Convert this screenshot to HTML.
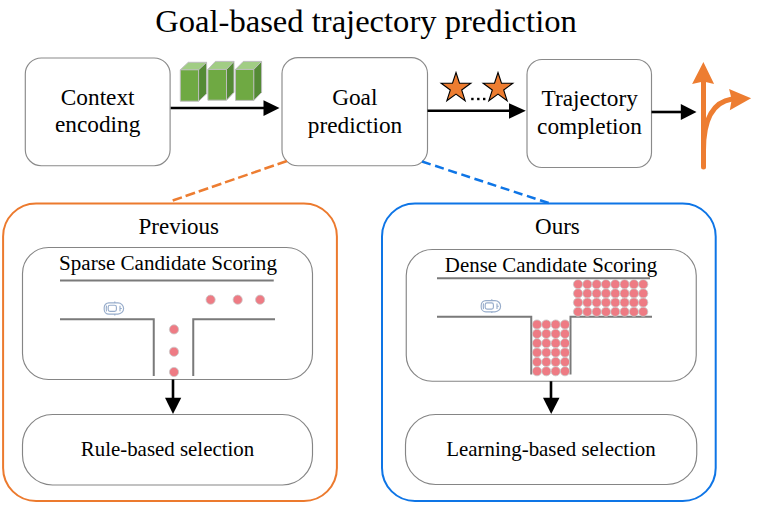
<!DOCTYPE html>
<html><head><meta charset="utf-8"><style>html,body{margin:0;padding:0;background:#fff;overflow:hidden}svg{display:block}</style></head>
<body><svg width="757" height="505" viewBox="0 0 757 505">
<rect width="757" height="505" fill="#fff"/>
<text x="366" y="31.7" font-size="32.6" text-anchor="middle" font-family="&quot;Liberation Serif&quot;, serif" fill="#000">Goal-based trajectory prediction</text>

<!-- top boxes -->
<g fill="#fff" stroke="#8A8A8A" stroke-width="1.15">
<rect x="25.3" y="58" width="144.8" height="107.7" rx="16"/>
<rect x="282" y="57.6" width="145.5" height="108.2" rx="16"/>
<rect x="527" y="59.5" width="124.5" height="108" rx="15"/>
</g>
<g font-size="23.3" text-anchor="middle" font-family="&quot;Liberation Serif&quot;, serif" fill="#000">
<text x="97.7" y="105">Context</text>
<text x="97.7" y="132">encoding</text>
<text x="354.8" y="104.5">Goal</text>
<text x="355" y="132.5">prediction</text>
<text x="589.7" y="106.3">Trajectory</text>
<text x="589.5" y="134">completion</text>
</g>

<!-- cubes -->
<polygon points="180.3,69.8 188.3,62.3 206.60000000000002,62.3 198.60000000000002,69.8" fill="#A1CD84"/><polygon points="198.60000000000002,69.8 206.60000000000002,62.3 206.60000000000002,93.69999999999999 198.60000000000002,101.19999999999999" fill="#548A35"/><rect x="180.3" y="69.8" width="18.3" height="31.4" fill="#6FA943"/><path d="M180.3,69.8 h18.3 v31.4 h-18.3 z M180.3,69.8 l8,-7.5 h18.3 v31.4 l-8,7.5 M198.60000000000002,69.8 l8,-7.5" fill="none" stroke="#BDBDBD" stroke-width="1"/>
<polygon points="207.9,69.4 215.4,61.400000000000006 234.0,61.400000000000006 226.5,69.4" fill="#A1CD84"/><polygon points="226.5,69.4 234.0,61.400000000000006 234.0,92.2 226.5,100.2" fill="#548A35"/><rect x="207.9" y="69.4" width="18.6" height="30.8" fill="#6FA943"/><path d="M207.9,69.4 h18.6 v30.8 h-18.6 z M207.9,69.4 l7.5,-8 h18.6 v30.8 l-7.5,8 M226.5,69.4 l7.5,-8" fill="none" stroke="#BDBDBD" stroke-width="1"/>
<polygon points="235.5,69.4 243.3,61.400000000000006 261.6,61.400000000000006 253.8,69.4" fill="#A1CD84"/><polygon points="253.8,69.4 261.6,61.400000000000006 261.6,92.4 253.8,100.4" fill="#548A35"/><rect x="235.5" y="69.4" width="18.3" height="31" fill="#6FA943"/><path d="M235.5,69.4 h18.3 v31 h-18.3 z M235.5,69.4 l7.8,-8 h18.3 v31 l-7.8,8 M253.8,69.4 l7.8,-8" fill="none" stroke="#BDBDBD" stroke-width="1"/>

<!-- arrows top -->
<g stroke="#000" stroke-width="2.6">
<line x1="170.7" y1="108" x2="265" y2="108"/>
<line x1="427.5" y1="110.8" x2="510" y2="110.8"/>
<line x1="651.5" y1="112" x2="682" y2="112"/>
</g>
<g fill="#000">
<polygon points="263.5,100.2 279.5,108 263.5,115.9"/>
<polygon points="509,103.3 525.8,110.8 509,118.7"/>
<polygon points="680.8,104 696.5,112 680.8,120"/>
</g>

<!-- stars -->
<g fill="#ED7D31" stroke="#000" stroke-width="1.1" stroke-linejoin="miter">
<polygon points="456.00,72.50 459.50,83.28 470.84,83.28 461.67,89.94 465.17,100.72 456.00,94.06 446.83,100.72 450.33,89.94 441.16,83.28 452.50,83.28"/>
<polygon points="498.00,72.50 501.50,83.28 512.84,83.28 503.67,89.94 507.17,100.72 498.00,94.06 488.83,100.72 492.33,89.94 483.16,83.28 494.50,83.28"/>
</g>
<g fill="#000">
<rect x="471.2" y="97.8" width="2.4" height="2.4"/>
<rect x="477.1" y="97.8" width="2.4" height="2.4"/>
<rect x="483" y="97.8" width="2.4" height="2.4"/>
</g>

<!-- fork arrow -->
<g fill="none" stroke="#ED7D31" stroke-width="5" stroke-linecap="round">
<line x1="703.5" y1="167" x2="703.5" y2="80"/>
<path d="M703.5,150 C703.5,118 713,102 732,99"/>
</g>
<g fill="#ED7D31">
<polygon points="703.4,61.9 714.1,83.9 703.5,81.4 692.1,83.9"/>
<polygon points="751.1,98.3 729.8,110.2 731.7,99.6 729.1,88.9"/>
</g>

<!-- dashed connectors -->
<line x1="287" y1="161" x2="172.7" y2="200.5" stroke="#ED7D31" stroke-width="2.5" stroke-dasharray="10,3.9"/>
<line x1="422" y1="161.5" x2="550" y2="203.5" stroke="#0E75E6" stroke-width="2.5" stroke-dasharray="9.1,4.7"/>

<!-- outer boxes -->
<rect x="3.1" y="203.5" width="333.8" height="297.5" rx="33" fill="none" stroke="#EC7A2E" stroke-width="2"/>
<rect x="382" y="203.5" width="333.7" height="297.5" rx="33" fill="none" stroke="#0E75E6" stroke-width="2"/>

<g font-size="23" text-anchor="middle" font-family="&quot;Liberation Serif&quot;, serif" fill="#000">
<text x="178.8" y="233.75">Previous</text>
<text x="557.4" y="233.75">Ours</text>
</g>

<!-- inner boxes -->
<g fill="#fff" stroke="#858585" stroke-width="1.15">
<rect x="22.5" y="247.5" width="290" height="132" rx="26"/>
<rect x="22.5" y="414.5" width="290" height="70.5" rx="30"/>
<rect x="406.25" y="249.5" width="290" height="131.75" rx="26"/>
<rect x="405.5" y="414.5" width="291.25" height="70" rx="30"/>
</g>
<g font-size="20.9" text-anchor="middle" font-family="&quot;Liberation Serif&quot;, serif" fill="#000">
<text x="168" y="270" font-size="21.1">Sparse Candidate Scoring</text>
<text x="167.5" y="455.5">Rule-based selection</text>
<text x="551" y="271.75">Dense Candidate Scoring</text>
<text x="551" y="455.75">Learning-based selection</text>
</g>

<!-- roads -->
<g fill="none" stroke="#7A7A7A" stroke-width="2">
<line x1="60" y1="280.5" x2="273.75" y2="280.5"/>
<path d="M60,319.25 H153.75 V376"/>
<path d="M193.25,376 V319.25 H275"/>
<line x1="437" y1="278.25" x2="650" y2="278.25"/>
<path d="M437,316.75 H531.25 V374.5"/>
<path d="M570.5,374.5 V316.75 H652"/>
</g>

<!-- dots -->
<g fill="#EE7B84" stroke="#C9C9C9" stroke-width="0.8">
<circle cx="210.6" cy="299.7" r="4.6"/>
<circle cx="237.7" cy="299.7" r="4.6"/>
<circle cx="260.1" cy="299.7" r="4.6"/>
<circle cx="174" cy="329.4" r="4.6"/>
<circle cx="174" cy="351.75" r="4.6"/>
<circle cx="174" cy="372" r="4.6"/>
<circle cx="578.00" cy="284.25" r="4.6"/><circle cx="587.32" cy="284.25" r="4.6"/><circle cx="596.64" cy="284.25" r="4.6"/><circle cx="605.96" cy="284.25" r="4.6"/><circle cx="615.28" cy="284.25" r="4.6"/><circle cx="624.60" cy="284.25" r="4.6"/><circle cx="633.92" cy="284.25" r="4.6"/><circle cx="643.24" cy="284.25" r="4.6"/><circle cx="578.00" cy="293.42" r="4.6"/><circle cx="587.32" cy="293.42" r="4.6"/><circle cx="596.64" cy="293.42" r="4.6"/><circle cx="605.96" cy="293.42" r="4.6"/><circle cx="615.28" cy="293.42" r="4.6"/><circle cx="624.60" cy="293.42" r="4.6"/><circle cx="633.92" cy="293.42" r="4.6"/><circle cx="643.24" cy="293.42" r="4.6"/><circle cx="578.00" cy="302.59" r="4.6"/><circle cx="587.32" cy="302.59" r="4.6"/><circle cx="596.64" cy="302.59" r="4.6"/><circle cx="605.96" cy="302.59" r="4.6"/><circle cx="615.28" cy="302.59" r="4.6"/><circle cx="624.60" cy="302.59" r="4.6"/><circle cx="633.92" cy="302.59" r="4.6"/><circle cx="643.24" cy="302.59" r="4.6"/><circle cx="578.00" cy="311.76" r="4.6"/><circle cx="587.32" cy="311.76" r="4.6"/><circle cx="596.64" cy="311.76" r="4.6"/><circle cx="605.96" cy="311.76" r="4.6"/><circle cx="615.28" cy="311.76" r="4.6"/><circle cx="624.60" cy="311.76" r="4.6"/><circle cx="633.92" cy="311.76" r="4.6"/><circle cx="643.24" cy="311.76" r="4.6"/>
<circle cx="537.00" cy="324.50" r="4.6"/><circle cx="546.33" cy="324.50" r="4.6"/><circle cx="555.66" cy="324.50" r="4.6"/><circle cx="564.99" cy="324.50" r="4.6"/><circle cx="537.00" cy="333.85" r="4.6"/><circle cx="546.33" cy="333.85" r="4.6"/><circle cx="555.66" cy="333.85" r="4.6"/><circle cx="564.99" cy="333.85" r="4.6"/><circle cx="537.00" cy="343.20" r="4.6"/><circle cx="546.33" cy="343.20" r="4.6"/><circle cx="555.66" cy="343.20" r="4.6"/><circle cx="564.99" cy="343.20" r="4.6"/><circle cx="537.00" cy="352.55" r="4.6"/><circle cx="546.33" cy="352.55" r="4.6"/><circle cx="555.66" cy="352.55" r="4.6"/><circle cx="564.99" cy="352.55" r="4.6"/><circle cx="537.00" cy="361.90" r="4.6"/><circle cx="546.33" cy="361.90" r="4.6"/><circle cx="555.66" cy="361.90" r="4.6"/><circle cx="564.99" cy="361.90" r="4.6"/><circle cx="537.00" cy="371.25" r="4.6"/><circle cx="546.33" cy="371.25" r="4.6"/><circle cx="555.66" cy="371.25" r="4.6"/><circle cx="564.99" cy="371.25" r="4.6"/>
</g>

<!-- cars -->
<g id="car" fill="none" stroke="#98ADCB" stroke-width="1.15">
<path d="M108.8,302.9 H118 A5.6,5.6 0 0 1 118,314.1 H108.8 A4.6,4.6 0 0 1 104.2,309.5 V307.5 A4.6,4.6 0 0 1 108.8,302.9 Z"/>
<rect x="108.2" y="305.2" width="8.2" height="6.2" rx="1.8"/>
<path d="M106.5,305.6 Q106,308.5 106.5,311.4"/>
<path d="M120,305.8 V311.2 M120,308.5 H121.8"/>
<path d="M114.8,301.6 V303 M114.8,314 V315.4"/>
</g>
<use href="#car" transform="translate(377,-2.3)"/>

<!-- down arrows -->
<g stroke="#000" stroke-width="2.6">
<line x1="173" y1="379.5" x2="173" y2="400"/>
<line x1="551" y1="381.25" x2="551" y2="400"/>
</g>
<g fill="#000">
<polygon points="165,397.75 181.25,397.75 173,414"/>
<polygon points="543,397.75 559.5,397.75 551.2,414"/>
</g>
</svg></body></html>
